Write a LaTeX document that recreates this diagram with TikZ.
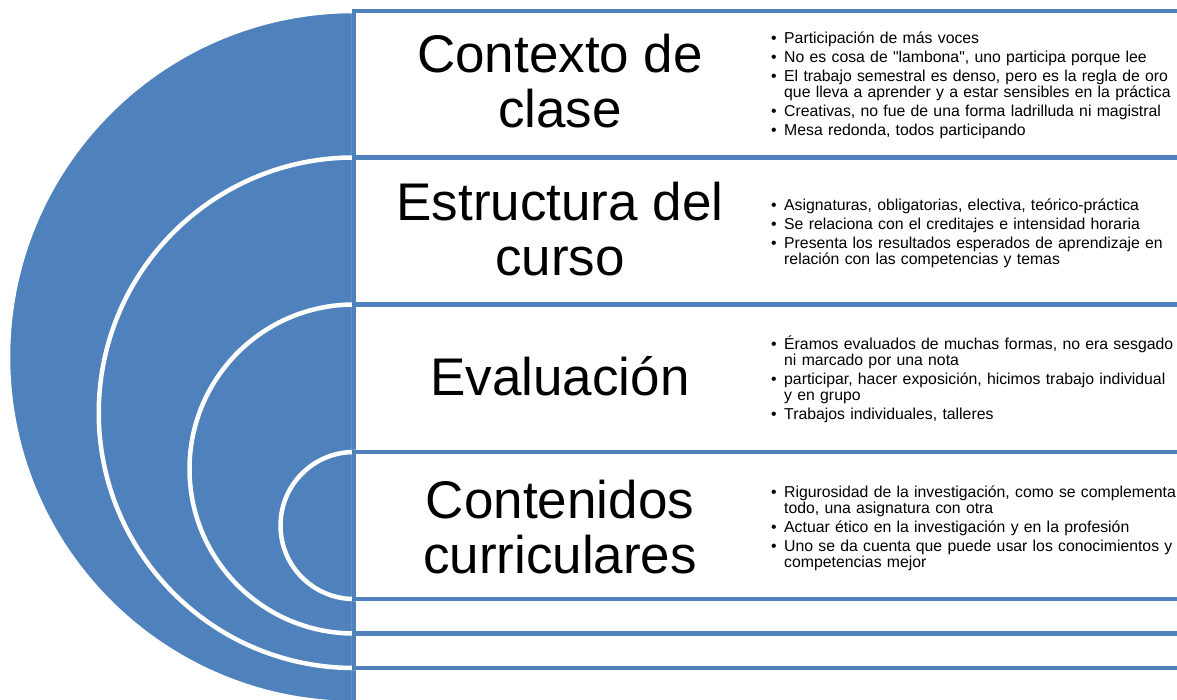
\documentclass[tikz,border=0pt]{standalone}
\usepackage{fontspec}
\setmainfont{Liberation Sans}[Ligatures=TeXOff]
\definecolor{accblue}{RGB}{79,129,189}
\newcommand{\bitem}[1]{\par\hangindent=13pt\hangafter=1\noindent\makebox[13pt][l]{\textbullet}#1\par}
\tikzset{
  halfdisc/.style={fill=accblue,draw=white,line width=4.5pt},
  rowbox/.style={fill=white,draw=accblue,line width=4.5pt},
  title/.style={font=\fontsize{53}{55}\selectfont,align=center},
  points/.style={anchor=west,text width=420pt,align=left,inner sep=0pt,
    font=\fontsize{15.8}{16}\selectfont,
    execute at begin node=\setlength{\parskip}{3pt}}
}
\begin{document}
\begin{tikzpicture}[x=1pt,y=1pt]
  \useasboundingbox (0,0) rectangle (1177,700);
  \clip (0,0) rectangle (1177,700);
\foreach \t/\b in {689/-3,542.5/32,395.5/66.5,248/101}
{
    \draw[halfdisc](354,\t) arc[start angle=90,end angle=270,radius={(\t-(\b))*0.5pt}] -- cycle;
    \draw[rowbox](354,\t) rectangle (1200,\b);
}

\node[title] (ctx) at (560,618.5) {Contexto de\\clase};
\node[title] (est) at (560,471) {Estructura del\\curso};
\node[title] (eva) at (560,323.5) {Evaluación};
\node[title] (con) at (560,172.5) {Contenidos\\curriculares};

\node[points] (ctxlist) at (771,618) {
  \bitem{Participación de más voces}
  \bitem{No es cosa de "lambona", uno participa porque lee}
  \bitem{El trabajo semestral es denso, pero es la regla de oro\newline que lleva a aprender y a estar sensibles en la práctica}
  \bitem{Creativas, no fue de una forma ladrilluda ni magistral}
  \bitem{Mesa redonda, todos participando}};
\node[points] (estlist) at (771,470) {
  \bitem{Asignaturas, obligatorias, electiva, teórico-práctica}
  \bitem{Se relaciona con el creditajes e intensidad horaria}
  \bitem{Presenta los resultados esperados de aprendizaje en\newline relación con las competencias y temas}};
\node[points] (evalist) at (771,323) {
  \bitem{Éramos evaluados de muchas formas, no era sesgado\newline ni marcado por una nota}
  \bitem{participar, hacer exposición, hicimos trabajo individual\newline y en grupo}
  \bitem{Trabajos individuales, talleres}};
\node[points] (conlist) at (771,175) {
  \bitem{Rigurosidad de la investigación, como se complementa\newline todo, una asignatura con otra}
  \bitem{Actuar ético en la investigación y en la profesión}
  \bitem{Uno se da cuenta que puede usar los conocimientos y\newline competencias mejor}};

\end{tikzpicture}
\end{document}
